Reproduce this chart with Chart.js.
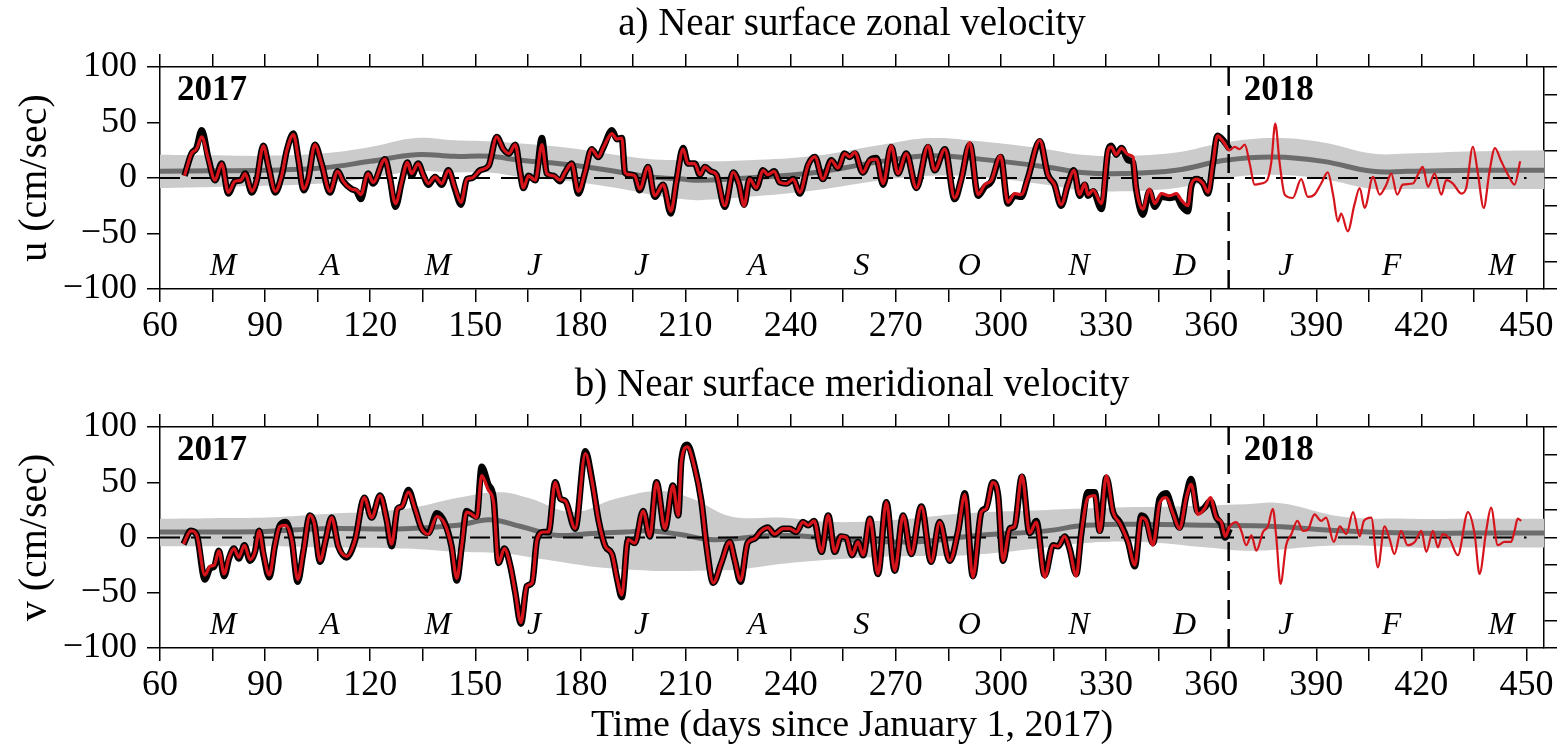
<!DOCTYPE html>
<html>
<head>
<meta charset="utf-8">
<script src="https://cdn.jsdelivr.net/npm/chart.js@4.4.1/dist/chart.umd.min.js"></script>
<style>
  html, body { margin: 0; padding: 0; background: #fff; }
  body { width: 1562px; height: 750px; overflow: hidden; position: relative; }
  canvas { position: absolute; left: 0; }
</style>
</head>
<body>
<canvas id="panelA" width="1562" height="345" style="top:0px"></canvas>
<canvas id="panelB" width="1562" height="405" style="top:345px"></canvas>
<script>
// ---------------- DATA ----------------
const X_MIN = 60, X_MAX = 455;
const Y_MIN = -100, Y_MAX = 100;
const YEAR_BREAK = 365;
const YEAR_LABELS = ['2017', '2018'];
const MONTH_LABELS = ['M','A','M','J','J','A','S','O','N','D','J','F','M'];
const MONTH_DAYS = [78, 108.5, 139.3, 166.8, 197.3, 230.5, 260.2, 291, 322.3, 352.4, 381.2, 411.5, 442.9];
const TITLE_A = 'a) Near surface zonal velocity';
const TITLE_B = 'b) Near surface meridional velocity';
const Y_TITLE_A = 'u (cm/sec)';
const Y_TITLE_B = 'v (cm/sec)';
const X_TITLE = 'Time (days since January 1, 2017)';

// panel a: zonal velocity u (red, full record)
const uRed = [[67,2],[69,22],[70.4,26],[71.9,37],[73.8,17],[75.7,-2],[77.6,13],[79.5,-13],[81.4,-3],[83.1,-2],[84.3,4],[86.2,-12],[87.6,-2],[89.5,29],[91,10],[92.9,-12],[94.8,3],[96.2,25],[98.1,39],[99.5,17],[101,-10],[102.3,-1],[104.2,30],[106.1,13],[108.5,-12],[110.7,6],[112.3,-3],[114.7,-10],[116.1,-11],[117.3,-15],[119.4,4],[120.8,-4],[124.2,17],[125.6,0],[127.2,-23],[129,-3],[130.6,14],[131.8,4],[133.7,13],[135.1,3],[136.6,-5],[138.5,1],[140.4,-5],[142.3,7],[144.2,-9],[145.9,-22],[147.6,-1],[149,0],[151.4,7],[153.8,11],[156.1,37],[158,26],[159.6,22],[161.4,30],[162.8,5],[163.7,-9],[165.2,2],[167.1,-2],[169,30],[170.4,4],[172.3,2],[174.2,-2],[175.6,5],[177.5,13],[179.4,-12],[181.3,5],[183.2,26],[185.1,19],[186.6,28],[189,40],[190.4,35],[191.8,36],[192.7,5],[194.1,3],[195.5,2],[196.9,-10],[199.3,10],[201.2,-16],[203.6,-6],[205.8,-30],[207.4,-3],[209.3,26],[210.7,13],[212.6,13],[214.1,3],[215.5,10],[217.2,6],[218.8,3],[221.2,-25],[223.6,5],[225.2,-5],[226.7,-25],[228.3,-1],[230.2,-9],[232.1,7],[233.5,3],[235.3,6],[236.9,-4],[238.8,-5],[240.7,-1],[242.6,-13],[245,12],[246.9,19],[249.2,-1],[251.6,16],[253.5,9],[255.4,22],[256.8,19],[258.3,23],[260.6,5],[262.6,16],[264.5,17],[266.4,-5],[268.7,29],[270.6,4],[273,22],[275.9,-9],[279.2,29],[281.1,7],[284,26],[286.8,-18],[288.7,-1],[291.1,32],[293.5,-15],[295.4,-6],[297.3,-2],[299.9,20],[302,-22],[303.9,-14],[305.8,-15],[307.7,0],[311.1,34],[313.4,3],[315.3,-6],[317.2,-24],[319.1,-6],[320.8,7],[322.5,-15],[323.9,-5],[324.9,-15],[326.3,-11],[328.7,-23],[330.6,25],[331.5,28],[332.9,21],[334.4,27],[336.3,21],[337.7,19],[338.6,-9],[340.5,-28],[342.4,-10],[343.9,-23],[345.8,-14],[348.2,-16],[350.1,-14],[351.5,-20],[353.4,-25],[354.3,-6],[355.8,-1],[357.7,-5],[359.1,-13],[360.5,13],[361.8,38],[363.4,33],[365.3,25],[366.7,28],[368.1,26],[369.6,30],[371,13],[372.4,-6],[374.3,-5],[376,-2],[377.2,15],[378.3,49],[379.5,15],[381,-15],[383.3,-18],[385.7,-1],[387.6,-17],[389.5,-15],[391.4,-5],[393.3,5],[394.8,-15],[396.2,-39],[397.1,-32],[399,-48],[400.9,-24],[402.4,-9],[403.8,-27],[406.2,1],[408.1,-15],[410,-6],[411.4,4],[413.1,-15],[414.7,-6],[417.6,-5],[419,3],[420.4,10],[421.9,-8],[423.8,4],[425.7,-15],[427.1,-2],[429,-5],[431.4,-14],[432.8,-9],[434.7,28],[436.1,5],[437.8,-27],[439.4,5],[441,27],[442.8,15],[444.7,3],[446.6,-6],[448.2,15]];
// panel a: zonal velocity u (black, 2017 only)
const uBlack = [[67,2],[69,22],[70.4,27],[71.9,43],[73.8,18],[75.7,-2],[77.6,13],[79.5,-14],[81.4,-3],[83.1,-2],[84.3,4],[86.2,-13],[87.6,-2],[89.5,29],[91,10],[92.9,-13],[94.8,3],[96.2,25],[98.1,40],[99.5,17],[101,-11],[102.3,-1],[104.2,30],[106.1,13],[108.5,-13],[110.7,6],[112.3,-3],[114.7,-10],[116.1,-12],[117.3,-19],[119.4,4],[120.8,-5],[124.2,17],[125.6,0],[127.2,-26],[129,-3],[130.6,14],[131.8,2],[133.7,13],[135.1,3],[136.6,-6],[138.5,1],[140.4,-6],[142.3,7],[144.2,-10],[145.9,-24],[147.6,-1],[149,0],[151.4,7],[153.8,11],[156.1,37],[158,26],[159.6,22],[161.4,30],[162.8,5],[163.7,-9],[165.2,2],[167.1,-2],[169,36],[170.4,4],[172.3,2],[174.2,-3],[175.6,5],[177.5,13],[179.4,-14],[181.3,5],[183.2,26],[185.1,19],[186.6,28],[189,43],[190.4,35],[191.8,36],[192.7,5],[194.1,3],[195.5,2],[196.9,-11],[199.3,10],[201.2,-17],[203.6,-6],[205.8,-32],[207.4,-3],[209.3,27],[210.7,13],[212.6,13],[214.1,3],[215.5,10],[217.2,6],[218.8,3],[221.2,-26],[223.6,5],[225.2,-5],[226.7,-24],[228.3,-1],[230.2,-9],[232.1,7],[233.5,3],[235.3,6],[236.9,-4],[238.8,-5],[240.7,-1],[242.6,-14],[245,12],[246.9,19],[249.2,-1],[251.6,16],[253.5,9],[255.4,22],[256.8,19],[258.3,22],[260.6,5],[262.6,16],[264.5,18],[266.4,-6],[268.7,28],[270.6,4],[273,22],[275.9,-9],[279.2,28],[281.1,7],[284,26],[286.8,-19],[288.7,-1],[291.1,30],[293.5,-16],[295.4,-8],[297.3,-3],[299.9,19],[302,-23],[303.9,-16],[305.8,-17],[307.7,0],[311.1,33],[313.4,3],[315.3,-6],[317.2,-25],[319.1,-6],[320.8,7],[322.5,-16],[323.9,-6],[324.9,-16],[326.3,-12],[328.7,-28],[330.6,25],[331.5,29],[332.9,21],[334.4,27],[336.3,16],[337.7,14],[338.6,-10],[340.5,-33],[342.4,-12],[343.9,-26],[345.8,-17],[348.2,-18],[350.1,-17],[351.5,-25],[353.4,-30],[354.3,-8],[355.8,-1],[357.7,-5],[359.1,-14],[360.5,13],[361.8,38],[363.4,34],[365.3,26]];
// panel a: ensemble mean and spread envelope
const uMean  = [[60,6],[75,6.5],[90,7],[106,9],[120,15],[133,21],[144,19.5],[154,19.5],[163,16],[177,12],[192,5],[200,1],[209,-1],[214,-2],[228,0],[247,5],[266,15],[280,20],[294,17],[313,10],[323,5],[335,4],[350,7],[364,16],[378,19],[392,15],[406,6],[416,6],[435,7],[455,7]];
const uUpper = [[60,21],[75,20.5],[90,20],[106,22],[120,28],[133,36],[144,34],[154,33],[163,31],[177,27],[192,20],[200,17],[209,16],[214,15],[228,16],[247,20],[266,30],[280,36],[294,33],[313,26],[323,21],[335,20],[350,23],[364,32],[378,36],[392,32],[406,22],[416,22],[435,24],[455,25]];
const uLower = [[60,-9],[75,-8],[90,-7],[106,-5],[120,0],[133,6],[144,5],[154,5],[163,1],[177,-3],[192,-10],[200,-15],[209,-19],[214,-20],[228,-17],[247,-11],[266,-2],[280,2],[294,1],[313,-6],[323,-11],[335,-12],[350,-9],[364,0],[378,3],[392,-1],[406,-10],[416,-10],[435,-10],[455,-10]];

// panel b: meridional velocity v (red, full record)
const vRed = [[66.7,-6],[68.8,6],[70.5,2],[72.8,-34],[74.3,-26],[75.5,-25],[76.8,-12],[78.3,-33],[79.7,-18],[81.1,-10],[82.5,-18],[84.1,-7],[85.7,-20],[87.1,-13],[88.3,6],[89.5,-14],[91.2,-34],[92.8,-7],[94.2,10],[95.9,11],[97.6,-2],[99.3,-38],[100.9,-13],[102.8,20],[104,13],[105.7,-21],[107.3,-2],[109,18],[110.9,-8],[113.3,-17],[115.7,-2],[118.3,36],[120.4,18],[122.8,38],[124.7,16],[126.1,-6],[127.8,26],[129,28],[130.9,41],[132.8,26],[134.7,8],[136.6,3],[139,19],[141.3,12],[143.2,-8],[144.7,-37],[146.1,-8],[147.5,23],[149,21],[150.4,18],[151.8,56],[153.7,43],[155.2,32],[156.6,-23],[158.3,-10],[160,-26],[161.4,-50],[163,-77],[164.7,-44],[166.2,-41],[167.6,-2],[169.5,5],[170.9,5],[172.8,50],[174.3,35],[175.7,33],[178.5,8],[181.4,76],[183.3,51],[185.2,15],[187.1,-8],[189,-15],[190.5,-38],[191.8,-52],[193.6,-2],[195.5,-5],[197.9,24],[199.8,1],[201.7,50],[204.1,8],[206.4,47],[207.9,20],[208.8,69],[210.5,82],[212.6,63],[214.5,33],[216,-8],[217.9,-41],[220.2,-23],[222.6,-4],[224,-20],[225.7,-39],[227.7,-5],[229.7,-1],[231.6,6],[233.5,9],[235.4,3],[237.8,8],[239.7,8],[241.6,5],[243.5,14],[245,11],[246.7,15],[248.8,-13],[250.7,20],[252.6,-13],[254.3,1],[255.9,0],[257.5,-16],[259.2,-4],[260.7,-16],[262.6,17],[264.9,-33],[267.3,32],[269.7,-30],[272.1,20],[274.4,-15],[277.3,28],[280.1,-22],[282.5,14],[285.4,-21],[287.8,6],[289.7,39],[292,-36],[294.4,23],[295.8,26],[297.7,50],[299.2,38],[300.6,-21],[302.5,8],[303.9,10],[306,56],[308.2,4],[310.1,14],[312.5,-36],[314.9,-7],[316.3,-8],[318.2,1],[319.6,-10],[321.5,-35],[322.9,3],[324.8,36],[326.8,38],[328.2,5],[330.1,56],[332,23],[333.9,13],[336.3,-4],[338.2,-25],[340.1,18],[341.5,15],[343.4,-7],[345.3,31],[347.2,36],[349.1,22],[351,8],[352.9,36],[354.3,48],[356.2,21],[358.1,26],[359.8,36],[361.5,18],[362.9,14],[364,1],[365.3,10],[367.2,14],[368.6,6],[370,-7],[371.5,2],[372.9,-12],[374.8,5],[376.2,10],[377.6,26],[378.6,0],[379.8,-42],[381.4,-7],[382.9,3],[384.6,15],[386.2,6],[387.6,7],[389.5,21],[391.4,15],[392.8,18],[395,-4],[396.7,10],[398.6,3],[400.5,23],[402.4,1],[403.6,15],[405.7,18],[407.6,-27],[409.5,10],[410.9,-1],[412.3,-15],[414.2,6],[416.1,-7],[418.1,-4],[420,6],[421.4,-13],[423.3,6],[424.7,-9],[426.1,3],[428,-1],[430.4,-16],[433.3,23],[435.2,3],[436.6,-33],[438.5,6],[439.9,27],[441.8,-7],[443.7,-4],[445.6,-4],[446.6,6],[447.5,17],[448.5,15]];
// panel b: meridional velocity v (black, 2017 only)
const vBlack = [[66.7,-6],[68.8,6],[70.5,2],[72.8,-38],[74.3,-28],[75.5,-26],[76.8,-12],[78.3,-35],[79.7,-19],[81.1,-10],[82.5,-19],[84.1,-7],[85.7,-21],[87.1,-13],[88.3,6],[89.5,-15],[91.2,-36],[92.8,-7],[94.2,11],[95.9,14],[97.6,-2],[99.3,-40],[100.9,-13],[102.8,20],[104,13],[105.7,-22],[107.3,-2],[109,18],[110.9,-8],[113.3,-18],[115.7,-2],[118.3,36],[120.4,18],[122.8,38],[124.7,16],[126.1,-8],[127.8,26],[129,28],[130.9,43],[132.8,26],[134.7,8],[136.6,4],[139,22],[141.3,13],[143.2,-8],[144.7,-39],[146.1,-8],[147.5,24],[149,21],[150.4,19],[151.8,64],[153.7,48],[155.2,36],[156.6,-23],[158.3,-10],[160,-26],[161.4,-50],[163,-78],[164.7,-44],[166.2,-41],[167.6,-2],[169.5,5],[170.9,5],[172.8,50],[174.3,35],[175.7,33],[178.5,8],[181.4,78],[183.3,52],[185.2,15],[187.1,-8],[189,-15],[190.5,-38],[191.8,-54],[193.6,-2],[195.5,-5],[197.9,24],[199.8,1],[201.7,50],[204.1,8],[206.4,47],[207.9,20],[208.8,70],[210.5,84],[212.6,64],[214.5,33],[216,-8],[217.9,-41],[220.2,-23],[222.6,-4],[224,-20],[225.7,-40],[227.7,-5],[229.7,-1],[231.6,6],[233.5,9],[235.4,3],[237.8,8],[239.7,8],[241.6,5],[243.5,14],[245,11],[246.7,15],[248.8,-13],[250.7,20],[252.6,-13],[254.3,1],[255.9,0],[257.5,-16],[259.2,-4],[260.7,-16],[262.6,17],[264.9,-33],[267.3,32],[269.7,-30],[272.1,20],[274.4,-15],[277.3,28],[280.1,-22],[282.5,14],[285.4,-21],[287.8,6],[289.7,40],[292,-35],[294.4,23],[295.8,27],[297.7,50],[299.2,38],[300.6,-21],[302.5,8],[303.9,10],[306,55],[308.2,4],[310.1,15],[312.5,-34],[314.9,-7],[316.3,-8],[318.2,1],[319.6,-10],[321.5,-33],[322.9,3],[324.8,41],[326.8,41],[328.2,6],[330.1,54],[332,23],[333.9,14],[336.3,-4],[338.2,-26],[340.1,20],[341.5,16],[343.4,-5],[345.3,35],[347.2,40],[349.1,24],[351,9],[352.9,38],[354.3,53],[356.2,23],[358.1,27],[359.8,33],[361.5,18],[362.9,12],[364,0],[365.3,8]];
// panel b: ensemble mean and spread envelope
const vMean  = [[60,5],[75,5],[90,5.5],[106,8],[130,8],[145,11],[154,16],[163,10],[173,2],[182,3.5],[193,5],[199,6],[208,3],[218,-2],[237,2],[256,-2],[275,-4],[294,2],[313,6],[324,11],[340,12],[359,11],[378,10],[397,6],[416,4],[435,4],[455,4]];
const vUpper = [[60,17],[75,17.5],[90,18],[106,21],[130,26],[145,36],[157,41],[165,36],[178,23],[190,35],[203,42],[212,35],[223,19],[237,18],[252,14],[270,16],[290,22],[313,25],[330,27],[350,28],[370,30],[380,31],[397,19],[416,17],[435,17],[455,17]];
const vLower = [[60,-8],[75,-8],[90,-8],[106,-9],[130,-10],[145,-13],[157,-14],[170,-20],[185,-27],[200,-30],[215,-30],[225,-29],[237,-24],[252,-20],[270,-17],[290,-16],[313,-9],[324,-5],[340,-4],[359,-9],[372,-12],[397,-7],[416,-9],[435,-9],[455,-9]];

// reference lines
const zeroLine = [[60,0],[450,0]];
const breakLine = [[YEAR_BREAK,Y_MIN],[YEAR_BREAK,Y_MAX]];

// ---------------- STYLE ----------------
const FONT = "'Liberation Serif', 'Times New Roman', serif";
const RED = '#d6141b';
const MEAN_GRAY = '#6c6c6c';
const BAND_GRAY = '#cbcbcb';

const panelText = {
  id: 'panelText',
  afterDraw(chart) {
    const o = chart.options.plugins.panelText;
    if (!o) return;
    const {ctx, chartArea: a} = chart;
    const x = chart.scales.x;
    ctx.save();
    ctx.fillStyle = '#000';
    ctx.textAlign = 'center';
    ctx.textBaseline = 'middle';
    ctx.font = '39px ' + FONT;
    ctx.fillText(o.title, (a.left + a.right) / 2, o.titleY);
    ctx.font = 'italic 32px ' + FONT;
    MONTH_LABELS.forEach((m, i) => ctx.fillText(m, x.getPixelForValue(MONTH_DAYS[i]), a.bottom - 22));
    ctx.font = 'bold 35px ' + FONT;
    ctx.textAlign = 'left';
    ctx.fillText(YEAR_LABELS[0], a.left + 17, a.top + 24);
    ctx.fillText(YEAR_LABELS[1], x.getPixelForValue(YEAR_BREAK) + 15, a.top + 24);
    ctx.restore();
  }
};

function makeScales(yTitle, topH, bottomH, xTitle) {
  const grid = {drawOnChartArea: false, drawTicks: true, tickLength: 13, tickColor: '#000', tickWidth: 1.5, lineWidth: 1.5, color: '#000'};
  const border = {display: true, color: '#000', width: 1.5};
  const tickFont = {family: FONT, size: 36};
  return {
    x: {
      type: 'linear', axis: 'x', position: 'bottom', min: X_MIN, max: X_MAX, grid, border,
      ticks: {stepSize: 15, includeBounds: false, autoSkip: false, maxRotation: 0, minRotation: 0,
              color: '#000', font: tickFont, padding: 3,
              callback: v => (v % 30 === 0 ? String(v) : '')},
      title: {display: !!xTitle, text: xTitle || '', color: '#000', font: {family: FONT, size: 38}, padding: {top: 0, bottom: 1}},
      afterFit: s => { s.height = bottomH; }
    },
    xTop: {
      type: 'linear', axis: 'x', position: 'top', min: X_MIN, max: X_MAX, grid, border,
      ticks: {display: false, stepSize: 15, includeBounds: false},
      afterFit: s => { s.height = topH; }
    },
    y: {
      type: 'linear', axis: 'y', position: 'left', min: Y_MIN, max: Y_MAX, grid, border,
      ticks: {stepSize: 25, color: '#000', font: tickFont, padding: 10,
              callback: v => (v % 50 === 0 ? (v < 0 ? '\u2212' + (-v) : String(v)) : '')},
      title: {display: true, text: yTitle, color: '#000', font: {family: FONT, size: 40}, padding: {top: 11, bottom: 0}},
      afterFit: s => { s.width = 160; }
    },
    yRight: {
      type: 'linear', axis: 'y', position: 'right', min: Y_MIN, max: Y_MAX, grid, border,
      ticks: {display: false, stepSize: 25},
      afterFit: s => { s.width = 18; }
    }
  };
}

function makeDatasets(red, black, mean, upper, lower) {
  const common = {xAxisID: 'x', yAxisID: 'y', pointRadius: 0, pointHoverRadius: 0};
  return [
    {...common, label: 'observed (red)', data: red, borderColor: RED, borderWidth: 3, order: 1,
     cubicInterpolationMode: 'monotone',
     segment: {borderWidth: c => (c.p0.parsed.x >= YEAR_BREAK ? 2.2 : 3.2)}},
    {...common, label: 'observed (black)', data: black, borderColor: '#000', borderWidth: 6.5, order: 2,
     cubicInterpolationMode: 'monotone'},
    {...common, label: 'zero', data: zeroLine, borderColor: '#000', borderWidth: 2.2, borderDash: [20, 11], order: 3, tension: 0},
    {...common, label: 'year break', data: breakLine, borderColor: '#000', borderWidth: 2.5, borderDash: [19, 10], order: 3, tension: 0},
    {...common, label: 'mean', data: mean, borderColor: MEAN_GRAY, borderWidth: 5, order: 4, tension: 0.4},
    {...common, label: 'upper', data: upper, borderColor: 'rgba(0,0,0,0)', borderWidth: 0, backgroundColor: BAND_GRAY,
     fill: '+1', order: 5, tension: 0.4},
    {...common, label: 'lower', data: lower, borderColor: 'rgba(0,0,0,0)', borderWidth: 0, fill: false, order: 6, tension: 0.4}
  ];
}

function makeChart(id, cfg) {
  return new Chart(document.getElementById(id), {
    type: 'line',
    data: {datasets: makeDatasets(cfg.red, cfg.black, cfg.mean, cfg.upper, cfg.lower)},
    options: {
      responsive: false, animation: false, devicePixelRatio: 1,
      layout: {padding: 0},
      parsing: true,
      scales: makeScales(cfg.yTitle, cfg.topH, cfg.bottomH, cfg.xTitle),
      plugins: {legend: {display: false}, tooltip: {enabled: false}, title: {display: false},
                panelText: {title: cfg.title, titleY: cfg.titleY}},
      events: []
    },
    plugins: [panelText]
  });
}

makeChart('panelA', {red: uRed, black: uBlack, mean: uMean, upper: uUpper, lower: uLower,
  yTitle: Y_TITLE_A, title: TITLE_A, titleY: 25, topH: 67, bottomH: 56});
makeChart('panelB', {red: vRed, black: vBlack, mean: vMean, upper: vUpper, lower: vLower,
  yTitle: Y_TITLE_B, title: TITLE_B, titleY: 41, topH: 82, bottomH: 102, xTitle: X_TITLE});
</script>
</body>
</html>
